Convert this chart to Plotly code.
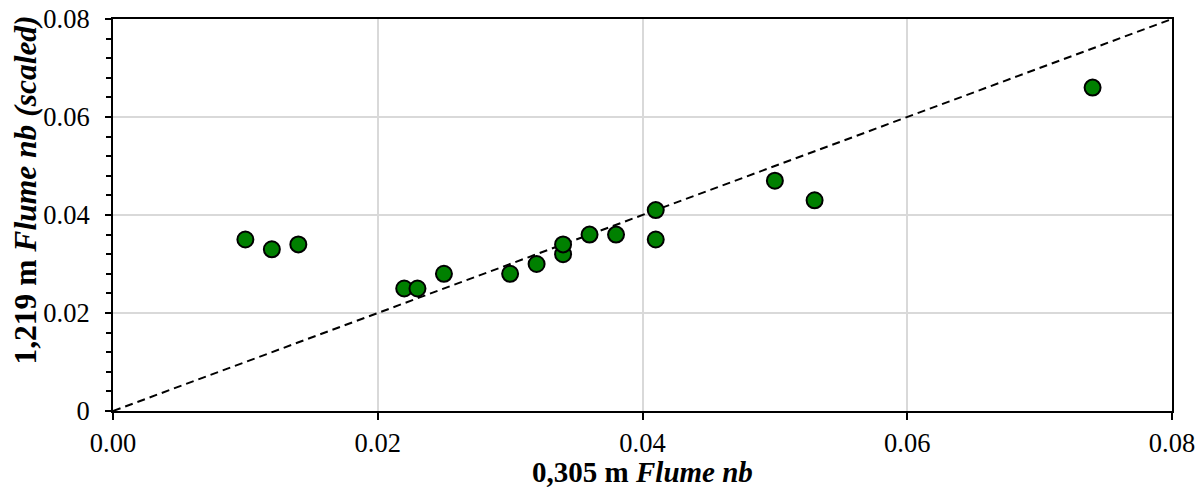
import plotly.graph_objects as go

flume_305 = [0.010, 0.012, 0.014, 0.022, 0.023, 0.025, 0.030, 0.032, 0.034, 0.034,
             0.036, 0.038, 0.041, 0.041, 0.050, 0.053, 0.074]
flume_1219 = [0.035, 0.033, 0.034, 0.025, 0.025, 0.028, 0.028, 0.030, 0.032, 0.034,
              0.036, 0.036, 0.041, 0.035, 0.047, 0.043, 0.066]
line_1to1 = [0.0, 0.08]

FONT = "Times New Roman"
TICK = 26.5
TITLE = 29

fig = go.Figure()
fig.add_trace(go.Scatter(x=line_1to1, y=line_1to1, mode="lines",
                         line=dict(color="black", width=2, dash="8px,5px"),
                         showlegend=False, hoverinfo="skip"))
fig.add_trace(go.Scatter(x=flume_305, y=flume_1219, mode="markers",
                         marker=dict(size=16, color="#008000",
                                     line=dict(color="black", width=2)),
                         showlegend=False, cliponaxis=False))

fig.update_layout(
    width=1204, height=488,
    margin=dict(l=113, r=32, t=19, b=77, autoexpand=False),
    paper_bgcolor="white", plot_bgcolor="white",
    font=dict(family=FONT, size=TICK, color="black"),
)
fig.update_xaxes(
    range=[0, 0.08], dtick=0.02, tickformat=".2f",
    showgrid=True, gridcolor="#d9d9d9", gridwidth=1.5,
    showline=True, linecolor="black", linewidth=2, mirror=True,
    ticks="outside", ticklen=7, tickwidth=2, tickcolor="black",
    zeroline=False, automargin=False,
    tickfont=dict(family=FONT, size=TICK),
    title=dict(text="<b>0,305 m <i>Flume nb</i></b>", font=dict(family=FONT, size=TITLE), standoff=8),
)
fig.update_yaxes(
    range=[0, 0.08], dtick=0.02,
    showgrid=True, gridcolor="#d9d9d9", gridwidth=1.5,
    showline=True, linecolor="black", linewidth=2, mirror=True,
    ticks="outside", ticklen=6, tickwidth=2, tickcolor="black",
    ticklabelstandoff=10,
    minor=dict(dtick=0.004, ticks="outside", ticklen=5, tickwidth=1.5,
               tickcolor="black", showgrid=False),
    zeroline=False, automargin=False,
    tickfont=dict(family=FONT, size=TICK),
)
fig.add_annotation(
    text="<b>1,219 m <i>Flume nb (scaled)</i></b>",
    xref="paper", yref="paper",
    x=(25 - 113) / 1059, y=(411 - 190.5) / 392,
    xanchor="center", yanchor="middle",
    textangle=-90, showarrow=False,
    font=dict(family=FONT, size=31.5, color="black"),
)

fig.write_html("out.html")
